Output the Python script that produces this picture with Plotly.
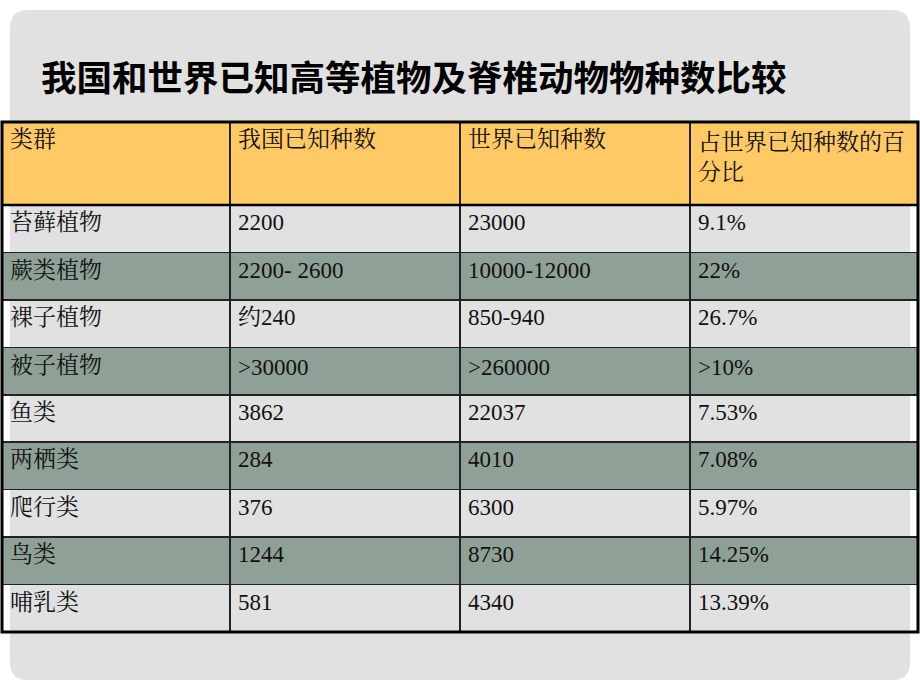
import plotly.graph_objects as go

W, H = 920, 690

title = "我国和世界已知高等植物及脊椎动物物种数比较"
headers = ["类群", "我国已知种数", "世界已知种数", "占世界已知种数的百<br>分比"]
groups = ["苔藓植物", "蕨类植物", "裸子植物", "被子植物", "鱼类", "两栖类", "爬行类", "鸟类", "哺乳类"]
china_counts = ["2200", "2200- 2600", "约240", ">30000", "3862", "284", "376", "1244", "581"]
world_counts = ["23000", "10000-12000", "850-940", ">260000", "22037", "4010", "6300", "8730", "4340"]
percent_of_world = ["9.1%", "22%", "26.7%", ">10%", "7.53%", "7.08%", "5.97%", "14.25%", "13.39%"]

HEADER_FILL = "#FFCA66"
BAND_FILL = "#8FA096"
PLAIN_FILL = "rgba(0,0,0,0)"
BG = "#E1E1E1"

row_fills = [BAND_FILL if i % 2 == 1 else PLAIN_FILL for i in range(len(groups))]

# table placement in pixels
tx0, tx1, ty0, ty1 = 2, 918, 122, 632
header_h = 83
row_h = (ty1 - ty0 - header_h) / len(groups)

def px(x):
    return x / W

def py(y):
    return 1 - y / H

font = dict(family="Liberation Serif, Noto Serif CJK SC, Noto Sans CJK SC", size=23, color="#111111")

fig = go.Figure()
fig.add_trace(go.Table(
    domain=dict(x=[px(tx0), px(tx1)], y=[py(ty1), py(ty0)]),
    columnwidth=[228, 230, 230, 228],
    header=dict(
        values=headers,
        fill_color=HEADER_FILL,
        line=dict(color="#222222", width=1.5),
        align="left",
        height=header_h,
        font=font,
    ),
    cells=dict(
        values=[groups, china_counts, world_counts, percent_of_world],
        fill_color=[row_fills] * 4,
        line=dict(color="#222222", width=1.5),
        align="left",
        height=row_h,
        font=font,
    ),
))

# rounded slide background
r = 18
x0, x1, y0, y1 = px(10), px(910), py(10), py(680)
rx, ry = r / W, r / H
path = (f"M {x0+rx},{y0} L {x1-rx},{y0} Q {x1},{y0} {x1},{y0-ry} "
        f"L {x1},{y1+ry} Q {x1},{y1} {x1-rx},{y1} L {x0+rx},{y1} "
        f"Q {x0},{y1} {x0},{y1+ry} L {x0},{y0-ry} Q {x0},{y0} {x0+rx},{y0} Z")
fig.add_shape(type="path", path=path, xref="paper", yref="paper",
              fillcolor=BG, line=dict(width=0), layer="below")

# thick outer border and header rule
fig.add_shape(type="rect", xref="paper", yref="paper",
              x0=px(tx0), x1=px(tx1), y0=py(ty1), y1=py(ty0),
              line=dict(color="#000000", width=3), fillcolor="rgba(0,0,0,0)")
fig.add_shape(type="line", xref="paper", yref="paper",
              x0=px(tx0), x1=px(tx1), y0=py(ty0 + header_h), y1=py(ty0 + header_h),
              line=dict(color="#000000", width=2.5))

fig.add_annotation(text=title, xref="paper", yref="paper", x=px(39), y=py(75),
                   xanchor="left", yanchor="middle", showarrow=False,
                   font=dict(family="Noto Sans CJK SC", size=35.5, color="#000000", weight="bold"))

fig.update_layout(width=W, height=H, margin=dict(l=0, r=0, t=0, b=0),
                  paper_bgcolor="#FFFFFF", plot_bgcolor="#FFFFFF", showlegend=False)

fig.write_html("out.html", config={"displayModeBar": False},
               post_script="document.body.style.margin='0';document.body.style.padding='0';")
